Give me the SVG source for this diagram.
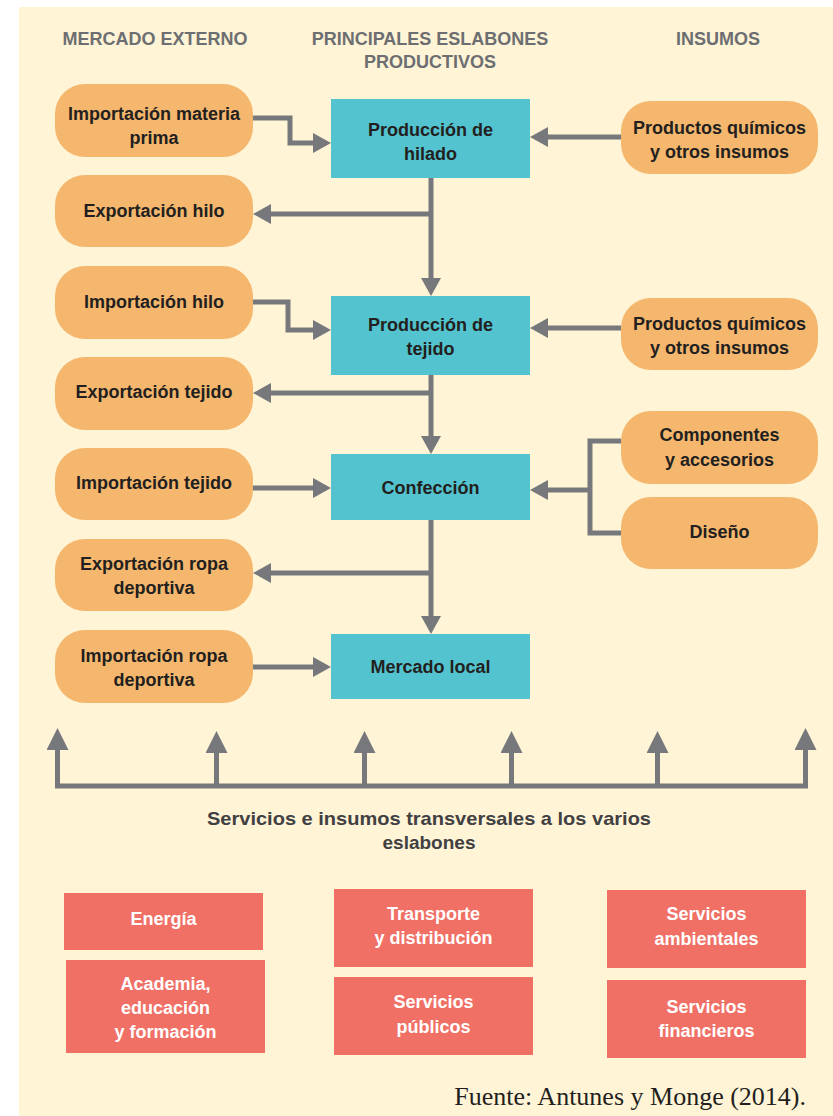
<svg xmlns="http://www.w3.org/2000/svg" width="833" height="1116" viewBox="0 0 833 1116">
<defs>
<marker id="arr" markerUnits="userSpaceOnUse" markerWidth="18" markerHeight="20" refX="3" refY="10" orient="auto"><path d="M0,0 L18,10 L0,20 Z" fill="#77787B"/></marker>
<marker id="arrBig" markerUnits="userSpaceOnUse" markerWidth="22" markerHeight="22" refX="3" refY="11" orient="auto"><path d="M0,0 L22,11 L0,22 Z" fill="#77787B"/></marker>
</defs>
<style>
.hdr{font-family:"Liberation Sans",Arial,sans-serif;font-weight:bold;font-size:18px;fill:#6D6E71;text-anchor:middle}
.t{font-family:"Liberation Sans",Arial,sans-serif;font-weight:bold;font-size:18px;fill:#231F20;text-anchor:middle}
.w{font-family:"Liberation Sans",Arial,sans-serif;font-weight:bold;font-size:18px;fill:#FFFFFF;text-anchor:middle}
.pill{fill:#F5B76E}
.blue{fill:#52C3CF}
.red{fill:#F07066}
.c{fill:none;stroke:#77787B;stroke-width:5}
</style>
<rect x="19" y="7" width="814" height="1109" fill="#FFF4D6"/>
<g id="headers">
<text class="hdr" x="155" y="45">MERCADO EXTERNO</text>
<text class="hdr" x="430" y="45">PRINCIPALES ESLABONES</text>
<text class="hdr" x="430" y="68">PRODUCTIVOS</text>
<text class="hdr" x="718" y="45">INSUMOS</text>
</g>
<g id="connectors">
<path class="c" d="M253,118 H290 V143 H316" marker-end="url(#arr)"/>
<path class="c" d="M621,137 H545" marker-end="url(#arr)"/>
<path class="c" d="M431,178 V281" marker-end="url(#arr)"/>
<path class="c" d="M431,214 H268" marker-end="url(#arr)"/>
<path class="c" d="M253,302 H288 V330 H316" marker-end="url(#arr)"/>
<path class="c" d="M621,328 H545" marker-end="url(#arr)"/>
<path class="c" d="M431,375 V439" marker-end="url(#arr)"/>
<path class="c" d="M431,393 H268" marker-end="url(#arr)"/>
<path class="c" d="M253,488 H316" marker-end="url(#arr)"/>
<path class="c" d="M621,441 H590 V533 H621"/>
<path class="c" d="M590,490 H545" marker-end="url(#arr)"/>
<path class="c" d="M431,520 V619" marker-end="url(#arr)"/>
<path class="c" d="M431,573 H268" marker-end="url(#arr)"/>
<path class="c" d="M253,667 H316" marker-end="url(#arr)"/>
<path class="c" d="M55,786 H808"/>
<path class="c" d="M57.5,788 V747" marker-end="url(#arrBig)"/>
<path class="c" d="M216.5,788 V750" marker-end="url(#arrBig)"/>
<path class="c" d="M364.5,788 V750" marker-end="url(#arrBig)"/>
<path class="c" d="M511.5,788 V750" marker-end="url(#arrBig)"/>
<path class="c" d="M657.5,788 V750" marker-end="url(#arrBig)"/>
<path class="c" d="M805.5,788 V747" marker-end="url(#arrBig)"/>
</g>
<g id="imp-materia-prima"><rect class="pill" x="55" y="84" width="198" height="73" rx="30"/><text class="t" x="154" y="120">Importación materia</text><text class="t" x="154" y="144">prima</text></g>
<g id="exp-hilo"><rect class="pill" x="55" y="175" width="198" height="72" rx="30"/><text class="t" x="154" y="217">Exportación hilo</text></g>
<g id="imp-hilo"><rect class="pill" x="55" y="266" width="198" height="73" rx="30"/><text class="t" x="154" y="308">Importación hilo</text></g>
<g id="exp-tejido"><rect class="pill" x="55" y="357" width="198" height="73" rx="30"/><text class="t" x="154" y="398">Exportación tejido</text></g>
<g id="imp-tejido"><rect class="pill" x="55" y="448" width="198" height="72" rx="30"/><text class="t" x="154" y="489">Importación tejido</text></g>
<g id="exp-ropa"><rect class="pill" x="55" y="539" width="198" height="72" rx="30"/><text class="t" x="154" y="570">Exportación ropa</text><text class="t" x="154" y="594">deportiva</text></g>
<g id="imp-ropa"><rect class="pill" x="55" y="630" width="198" height="73" rx="30"/><text class="t" x="154" y="662">Importación ropa</text><text class="t" x="154" y="686">deportiva</text></g>
<g id="quimicos-1"><rect class="pill" x="621" y="101" width="197" height="73" rx="30"/><text class="t" x="719.5" y="134">Productos químicos</text><text class="t" x="719.5" y="158">y otros insumos</text></g>
<g id="quimicos-2"><rect class="pill" x="621" y="298" width="197" height="72" rx="30"/><text class="t" x="719.5" y="330">Productos químicos</text><text class="t" x="719.5" y="354">y otros insumos</text></g>
<g id="componentes"><rect class="pill" x="621" y="411" width="197" height="73" rx="30"/><text class="t" x="719.5" y="441">Componentes</text><text class="t" x="719.5" y="466">y accesorios</text></g>
<g id="diseno"><rect class="pill" x="621" y="497" width="197" height="72" rx="30"/><text class="t" x="719.5" y="538">Diseño</text></g>
<g id="hilado"><rect class="blue" x="331" y="99" width="199" height="79"/><text class="t" x="430.5" y="136">Producción de</text><text class="t" x="430.5" y="160">hilado</text></g>
<g id="tejido"><rect class="blue" x="331" y="296" width="199" height="79"/><text class="t" x="430.5" y="331">Producción de</text><text class="t" x="430.5" y="355">tejido</text></g>
<g id="confeccion"><rect class="blue" x="331" y="454" width="199" height="66"/><text class="t" x="430.5" y="494">Confección</text></g>
<g id="mercado-local"><rect class="blue" x="331" y="634" width="199" height="65"/><text class="t" x="430.5" y="673">Mercado local</text></g>
<g id="transversal-label"><text class="t" x="429" y="825" style="fill:#414042;font-size:19px" textLength="444" lengthAdjust="spacingAndGlyphs">Servicios e insumos transversales a los varios</text><text class="t" x="429" y="849" style="fill:#414042;font-size:19px">eslabones</text></g>
<g id="energia"><rect class="red" x="64" y="893" width="199" height="57"/><text class="w" x="163.5" y="925">Energía</text></g>
<g id="academia"><rect class="red" x="66" y="960" width="199" height="93"/><text class="w" x="165.5" y="990">Academia,</text><text class="w" x="165.5" y="1014">educación</text><text class="w" x="165.5" y="1038">y formación</text></g>
<g id="transporte"><rect class="red" x="334" y="889" width="199" height="78"/><text class="w" x="433.5" y="920">Transporte</text><text class="w" x="433.5" y="944">y distribución</text></g>
<g id="publicos"><rect class="red" x="334" y="977" width="199" height="78"/><text class="w" x="433.5" y="1008">Servicios</text><text class="w" x="433.5" y="1033">públicos</text></g>
<g id="ambientales"><rect class="red" x="607" y="890" width="199" height="78"/><text class="w" x="706.5" y="920">Servicios</text><text class="w" x="706.5" y="945">ambientales</text></g>
<g id="financieros"><rect class="red" x="607" y="980" width="199" height="78"/><text class="w" x="706.5" y="1013">Servicios</text><text class="w" x="706.5" y="1037">financieros</text></g>
<g id="fuente"><text x="806" y="1105" style="font-family:'Liberation Serif','Times New Roman',serif;font-size:26px;fill:#231F20;text-anchor:end">Fuente: Antunes y Monge (2014).</text></g>
</svg>
